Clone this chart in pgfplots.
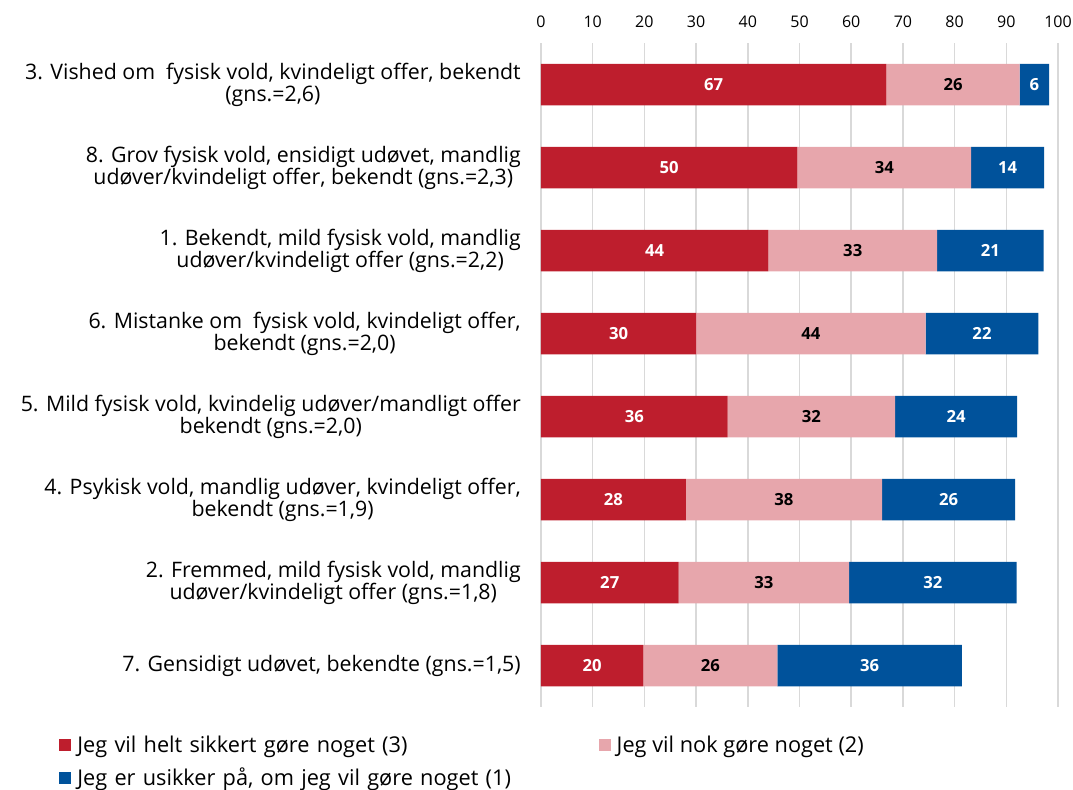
\documentclass[border=0pt]{standalone}
\usepackage{fontspec}
\setmainfont{Open Sans}
\usepackage{pgfplots}
\usepackage{pgfplotstable}
\pgfplotsset{compat=1.18}

\definecolor{barred}{HTML}{BE1E2D}
\definecolor{barpink}{HTML}{E7A6AC}
\definecolor{barblue}{HTML}{00529B}
\definecolor{gridgray}{HTML}{D9D9D9}

% segment values, top bar first
\pgfplotstableread{
y red  pink blue
0 66.8 25.8 5.7
1 49.6 33.6 14.1
2 44.0 32.6 20.6
3 30.0 44.4 21.8
4 36.1 32.4 23.6
5 28.0 38.0 25.7
6 26.6 33.0 32.4
7 19.8 25.9 35.7
}\data

\begin{document}
\begin{tikzpicture}
\useasboundingbox (-405.75pt,-61.5pt) rectangle (399pt,530.25pt);
\begin{axis}[
  at={(0,0)}, anchor=south west,
  scale only axis,
  width=387.75pt, height=498pt,
  xbar stacked, bar width=0.5,
  xmin=0, xmax=100,
  ymin=-0.5, ymax=7.5, y dir=reverse,
  xtick={0,10,...,100},
  xticklabel pos=upper,
  xticklabel style={font=\fontsize{12}{13}\selectfont, inner sep=0pt, anchor=center, yshift=15.75pt},
  /pgf/number format/assume math mode=true,
  ytick={0,...,7},
  yticklabels={
    {3. Vished om\ \ fysisk vold, kvindeligt offer, bekendt\\(gns.=2,6)},
    {8. Grov fysisk vold, ensidigt udøvet, mandlig\\udøver/kvindeligt offer, bekendt (gns.=2,3)},
    {1. Bekendt, mild fysisk vold, mandlig\\udøver/kvindeligt offer (gns.=2,2)},
    {6. Mistanke om\ \ fysisk vold, kvindeligt offer,\\bekendt (gns.=2,0)},
    {5. Mild fysisk vold, kvindelig udøver/mandligt offer\\bekendt (gns.=2,0)},
    {4. Psykisk vold, mandlig udøver, kvindeligt offer,\\bekendt (gns.=1,9)},
    {2. Fremmed, mild fysisk vold, mandlig\\udøver/kvindeligt offer (gns.=1,8)},
    {7. Gensidigt udøvet, bekendte (gns.=1,5)}},
  yticklabel style={align=center, font=\fontsize{16}{16.5}\selectfont, inner sep=0pt, xshift=-15pt},
  major tick length=0pt,
  axis line style={draw=none},
  xmajorgrids,
  grid style={line width=1.2pt, gridgray},
  clip=false,
  visualization depends on={rawx \as \rawx},
  nodes near coords={\pgfmathprintnumber[fixed,precision=0]{\rawx}},
  every node near coord/.append style={anchor=center, font=\bfseries\fontsize{12.5}{13}\selectfont},
  legend columns=2,
  legend style={at={(-0.932,-0.043)}, anchor=north west, draw=none,
    inner sep=0pt, nodes={inner sep=0pt}, font=\fontsize{16.3}{17}\selectfont, row sep=10pt,
    /tikz/every odd column/.append style={column sep=4.5pt},
    /tikz/column 2/.style={nodes={text width=391pt, align=left}}},
  legend cell align=left,
  legend image code/.code={\fill[#1] (0pt,-4.5pt) rectangle (9pt,4.5pt);},
]
\addplot[fill=barred, draw=none, every node near coord/.append style={text=white}]
  table[x=red, y=y] {\data};
\addlegendentry{Jeg vil helt sikkert gøre noget (3)}
\addplot[fill=barpink, draw=none, every node near coord/.append style={text=black}]
  table[x=pink, y=y] {\data};
\addlegendentry{Jeg vil nok gøre noget (2)}
\addplot[fill=barblue, draw=none, every node near coord/.append style={text=white}]
  table[x=blue, y=y] {\data};
\addlegendentry{Jeg er usikker på, om jeg vil gøre noget (1)}
\end{axis}
\end{tikzpicture}
\end{document}
